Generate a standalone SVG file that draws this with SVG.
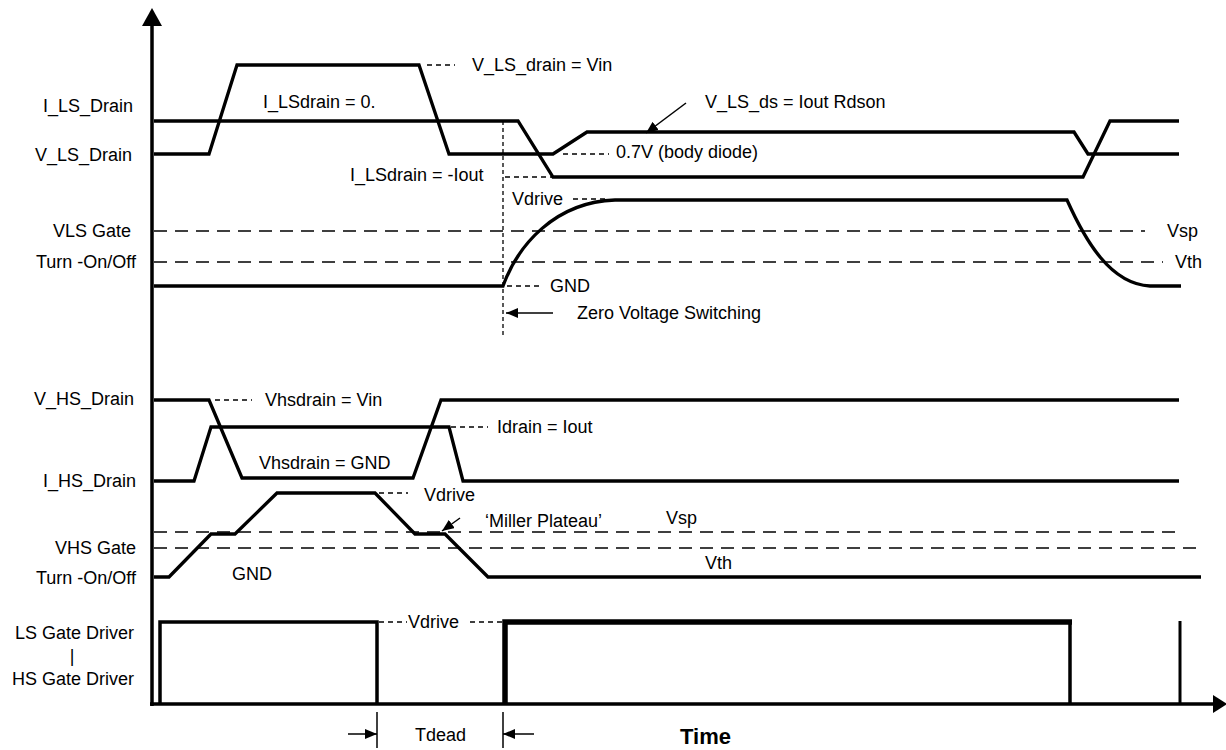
<svg xmlns="http://www.w3.org/2000/svg" width="1226" height="750" viewBox="0 0 1226 750">
<style>
text{font-family:"Liberation Sans",Arial,sans-serif;font-size:18px;fill:#000}
.lbl{text-anchor:end}
.sig{fill:none;stroke:#000;stroke-width:3.3;stroke-linejoin:miter;stroke-linecap:butt}
.ref{fill:none;stroke:#000;stroke-width:1.5;stroke-dasharray:13 8}
.dsh{fill:none;stroke:#000;stroke-width:1.3;stroke-dasharray:5 4}
.thin{fill:none;stroke:#000;stroke-width:1.5}
.axis{fill:none;stroke:#000;stroke-width:3.5}
</style>
<defs>
<marker id="ah" viewBox="0 0 12 10" refX="12" refY="5" markerWidth="12" markerHeight="10" markerUnits="userSpaceOnUse" orient="auto">
<path d="M0,0 L12,5 L0,10 z" fill="#000"/>
</marker>
</defs>
<rect width="1226" height="750" fill="#fff"/>

<g id="axes">
<line class="axis" x1="152" y1="22" x2="152" y2="706"/>
<polygon points="152,8 142,26 162,26" fill="#000"/>
<line class="axis" x1="150" y1="704" x2="1214" y2="704"/>
<polygon points="1227,704 1213,695 1213,713" fill="#000"/>
<text x="680" y="744" style="font-weight:bold;font-size:22px">Time</text>
</g>

<g id="labels">
<text class="lbl" x="133" y="112">I_LS_Drain</text>
<text class="lbl" x="132" y="161">V_LS_Drain</text>
<text class="lbl" x="131" y="237">VLS Gate</text>
<text class="lbl" x="136" y="268">Turn -On/Off</text>
<text class="lbl" x="134" y="405">V_HS_Drain</text>
<text class="lbl" x="136" y="487">I_HS_Drain</text>
<text class="lbl" x="136" y="554">VHS Gate</text>
<text class="lbl" x="136" y="584">Turn -On/Off</text>
<text class="lbl" x="134" y="639">LS Gate Driver</text>
<text x="72" y="662" style="text-anchor:middle">|</text>
<text class="lbl" x="134" y="685">HS Gate Driver</text>
</g>

<g id="ls-drain">
<polyline id="i-ls" class="sig" points="154,121 518,121 553,177 1083,177 1110,121 1179,121"/>
<polyline id="v-ls" class="sig" points="154,154 209,154 237,65 419,65 449,154 553,154 587,132 1074,132 1088,154 1179,154"/>
<text x="263" y="108">I_LSdrain = 0.</text>
<line class="dsh" x1="427" y1="65" x2="455" y2="65"/>
<text x="472" y="71">V_LS_drain = Vin</text>
<text x="705" y="108">V_LS_ds = Iout Rdson</text>
<line class="dsh" x1="563" y1="154" x2="609" y2="154"/>
<text x="616" y="158">0.7V (body diode)</text>
<text x="350" y="181">I_LSdrain = -Iout</text>
<line class="dsh" x1="505" y1="177" x2="552" y2="177"/>
</g>

<g id="ls-gate">
<line class="ref" x1="154" y1="231" x2="1145" y2="231"/>
<line class="ref" x1="154" y1="262" x2="1163" y2="262"/>
<path id="vls-gate" class="sig" d="M154,286 L503,286 C518,245 555,202 615,200 L1067,200 C1085,240 1110,284 1150,286 L1181,286"/>
<text x="512" y="205">Vdrive</text>
<line class="dsh" x1="573" y1="199" x2="606" y2="199"/>
<text x="1167" y="237">Vsp</text>
<text x="1175" y="268">Vth</text>
<line class="dsh" x1="507" y1="286" x2="539" y2="286"/>
<text x="550" y="292">GND</text>
<line class="dsh" x1="503" y1="121" x2="503" y2="336" style="stroke-dasharray:4 3"/>
<text x="577" y="319">Zero Voltage Switching</text>
</g>

<g id="hs-drain">
<polyline id="v-hs" class="sig" points="154,400 209,400 242,478 413,478 441,400 1179,400"/>
<polyline id="i-hs" class="sig" points="154,481 194,481 211,427 449,427 463,481 1179,481"/>
<line class="dsh" x1="215" y1="400" x2="252" y2="400"/>
<text x="265" y="406">Vhsdrain = Vin</text>
<line class="dsh" x1="451" y1="427" x2="488" y2="427"/>
<text x="497" y="433">Idrain = Iout</text>
<text x="259" y="469">Vhsdrain = GND</text>
</g>

<g id="hs-gate">
<line class="ref" x1="154" y1="532" x2="1179" y2="532"/>
<line class="ref" x1="154" y1="548" x2="1203" y2="548"/>
<polyline id="vhs-gate" class="sig" points="154,577 169,577 211,534 235,534 277,493 375,493 415,534 445,534 488,577 1201,577"/>
<line class="dsh" x1="379" y1="493" x2="408" y2="493"/>
<text x="424" y="501">Vdrive</text>
<text x="485" y="527">‘Miller Plateau’</text>
<text x="666" y="524">Vsp</text>
<text x="232" y="580">GND</text>
<text x="705" y="569">Vth</text>
</g>

<g id="gate-drivers">
<polyline id="ls-pulse" class="sig" style="stroke-width:3.5" points="160,704 160,622 377,622 377,704"/>
<polyline id="hs-pulse-side" class="sig" style="stroke-width:3.5" points="1070,622 1070,704"/>
<polyline id="hs-pulse" class="sig" style="stroke-width:5.5" points="505,704 505,622 1072,622"/>
<line class="sig" x1="1180" y1="621" x2="1180" y2="704" style="stroke-width:3"/>
<line class="dsh" x1="379" y1="622" x2="407" y2="622"/>
<text x="408" y="628">Vdrive</text>
<line class="dsh" x1="470" y1="622" x2="503" y2="622"/>
<line class="thin" x1="377" y1="712" x2="377" y2="748"/>
<line class="thin" x1="503" y1="712" x2="503" y2="748"/>
<text x="415" y="741">Tdead</text>
</g>

<g id="connectors">
<line class="thin" x1="553" y1="313" x2="506" y2="313" marker-end="url(#ah)"/>
<line class="thin" x1="686" y1="103" x2="646" y2="133" marker-end="url(#ah)"/>
<line class="thin" x1="460" y1="518" x2="442" y2="531" marker-end="url(#ah)"/>
<line class="thin" x1="348" y1="734" x2="377" y2="734" marker-end="url(#ah)"/>
<line class="thin" x1="534" y1="734" x2="503" y2="734" marker-end="url(#ah)"/>
</g>
</svg>
